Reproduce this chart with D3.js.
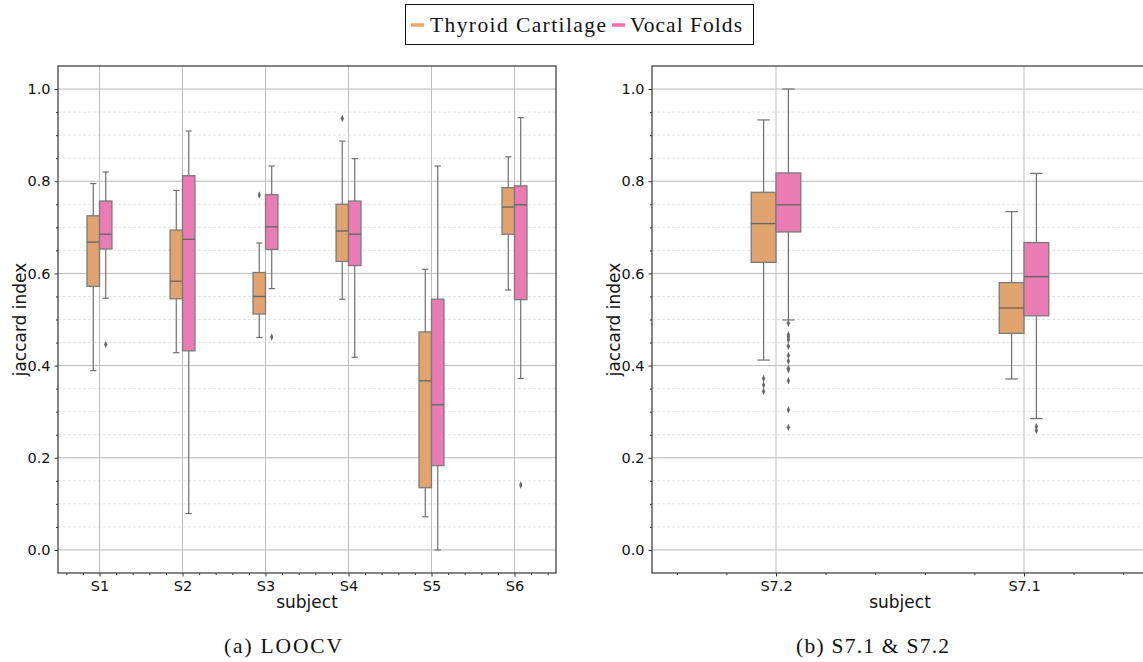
<!DOCTYPE html>
<html>
<head>
<meta charset="utf-8">
<script src="https://cdn.jsdelivr.net/npm/d3@7"></script>
<style>
  html, body { margin: 0; padding: 0; background: #fff; }
  svg { display: block; }
</style>
</head>
<body>
<svg id="chart" width="1143" height="662"></svg>
<script>
// ---------------- data ----------------
const seriesNames = ["Thyroid Cartilage", "Vocal Folds"];
const yTicks = [0.0, 0.2, 0.4, 0.6, 0.8, 1.0];

// Panel (a) LOOCV
const subjectsA = ["S1", "S2", "S3", "S4", "S5", "S6"];
// [whiskerLow, q1, median, q3, whiskerHigh]
const thyroidA = [
  [0.389, 0.572, 0.668, 0.725, 0.795],
  [0.428, 0.545, 0.583, 0.694, 0.780],
  [0.461, 0.512, 0.550, 0.602, 0.666],
  [0.544, 0.626, 0.692, 0.750, 0.887],
  [0.072, 0.135, 0.367, 0.473, 0.609],
  [0.564, 0.685, 0.744, 0.786, 0.853]
];
const thyroidOutA = [[], [], [0.770], [0.936], [], []];
const vocalA = [
  [0.546, 0.653, 0.685, 0.757, 0.820],
  [0.079, 0.432, 0.674, 0.812, 0.909],
  [0.567, 0.652, 0.701, 0.771, 0.833],
  [0.418, 0.617, 0.685, 0.757, 0.849],
  [0.000, 0.183, 0.315, 0.544, 0.833],
  [0.372, 0.543, 0.749, 0.790, 0.938]
];
const vocalOutA = [[0.446], [], [0.462], [], [], [0.141]];

// Panel (b) S7.1 & S7.2
const subjectsB = ["S7.2", "S7.1"];
const thyroidB = [
  [0.412, 0.624, 0.708, 0.776, 0.933],
  [0.371, 0.470, 0.525, 0.580, 0.734]
];
const thyroidOutB = [[0.372, 0.358, 0.344], []];
const vocalB = [
  [0.499, 0.690, 0.749, 0.818, 1.000],
  [0.285, 0.508, 0.593, 0.667, 0.817]
];
const vocalOutB = [
  [0.492, 0.467, 0.462, 0.456, 0.442, 0.422, 0.410, 0.394, 0.391, 0.367, 0.304, 0.266],
  [0.268, 0.259]
];

const boxFill = ["#E1A46F", "#EA7BB4"];
const legendColor = ["#F4A460", "#FF69B4"];

// ---------------- drawing ----------------
const svg = d3.select("#chart");
const sansFont = "'DejaVu Sans', sans-serif";
const serifFont = "'Liberation Serif', 'DejaVu Serif', serif";

function drawPanel(opts) {
  const { left, right, top, bottom, subjects, thyroid, thyroidOut, vocal, vocalOut, widthFrac, caption } = opts;
  const g = svg.append("g");
  const n = subjects.length;
  const x = d3.scaleLinear().domain([-0.5, n - 0.5]).range([left, right]);
  const y = d3.scaleLinear().domain([-0.05, 1.05]).range([bottom, top]);

  // minor horizontal grid (dashed)
  const minorY = d3.range(0, 21).map(i => i * 0.05).filter(v => Math.abs(v * 5 - Math.round(v * 5)) > 1e-6);
  g.selectAll(".minorY").data(minorY).enter().append("line")
    .attr("x1", left).attr("x2", right)
    .attr("y1", d => y(d)).attr("y2", d => y(d))
    .attr("stroke", "#dcdcdc").attr("stroke-width", 0.8).attr("stroke-dasharray", "3,2");
  // major horizontal grid
  g.selectAll(".majorY").data(yTicks).enter().append("line")
    .attr("x1", left).attr("x2", right)
    .attr("y1", d => y(d)).attr("y2", d => y(d))
    .attr("stroke", "#b8b8b8").attr("stroke-width", 1);
  // vertical grid at categories
  g.selectAll(".majorX").data(d3.range(n)).enter().append("line")
    .attr("x1", d => x(d)).attr("x2", d => x(d))
    .attr("y1", top).attr("y2", bottom)
    .attr("stroke", "#bdbdbd").attr("stroke-width", 1);

  const boxW = x(widthFrac / 2) - x(0);
  const lineCol = "#6f6f6f";

  function drawBoxes(stats, outs, si) {
    stats.forEach((s, i) => {
      const cx = x(i) + (si === 0 ? -boxW / 2 : boxW / 2);
      const [lo, q1, med, q3, hi] = s;
      g.append("line").attr("x1", cx).attr("x2", cx).attr("y1", y(q3)).attr("y2", y(hi))
        .attr("stroke", lineCol).attr("stroke-width", 1.2);
      g.append("line").attr("x1", cx).attr("x2", cx).attr("y1", y(q1)).attr("y2", y(lo))
        .attr("stroke", lineCol).attr("stroke-width", 1.2);
      [lo, hi].forEach(v => {
        g.append("line").attr("x1", cx - boxW / 4).attr("x2", cx + boxW / 4)
          .attr("y1", y(v)).attr("y2", y(v))
          .attr("stroke", lineCol).attr("stroke-width", 1.2);
      });
      g.append("rect").attr("x", cx - boxW / 2).attr("width", boxW)
        .attr("y", y(q3)).attr("height", y(q1) - y(q3))
        .attr("fill", boxFill[si]).attr("stroke", "#7a7a7a").attr("stroke-width", 1.3);
      g.append("line").attr("x1", cx - boxW / 2).attr("x2", cx + boxW / 2)
        .attr("y1", y(med)).attr("y2", y(med))
        .attr("stroke", "#676767").attr("stroke-width", 1.4);
      outs[i].forEach(v => {
        g.append("path")
          .attr("d", d3.symbol(d3.symbolDiamond, 16)())
          .attr("transform", `translate(${cx},${y(v)}) scale(0.75,1)`)
          .attr("fill", "#676767");
      });
    });
  }
  drawBoxes(thyroid, thyroidOut, 0);
  drawBoxes(vocal, vocalOut, 1);

  // frame
  g.append("rect").attr("x", left).attr("y", top).attr("width", right - left).attr("height", bottom - top)
    .attr("fill", "none").attr("stroke", "#222").attr("stroke-width", 1.1);

  // y axis
  const yAxis = d3.axisLeft(y).tickValues(yTicks).tickFormat(d3.format(".1f")).tickSize(3.5).tickPadding(4);
  const ya = g.append("g").attr("transform", `translate(${left},0)`).call(yAxis);
  ya.select(".domain").remove();
  ya.selectAll("text").attr("font-family", sansFont).attr("font-size", 14.5).attr("fill", "#111");
  ya.selectAll("line").attr("stroke", "#333");
  const yMinor = d3.axisLeft(y).tickValues(minorY).tickFormat("").tickSize(2);
  const ym = g.append("g").attr("transform", `translate(${left},0)`).call(yMinor);
  ym.select(".domain").remove();
  ym.selectAll("line").attr("stroke", "#333");

  // x axis
  const xAxis = d3.axisBottom(x).tickValues(d3.range(n)).tickFormat(i => subjects[i]).tickSize(3.5).tickPadding(4);
  const xa = g.append("g").attr("transform", `translate(0,${bottom})`).call(xAxis);
  xa.select(".domain").remove();
  xa.selectAll("text").attr("font-family", sansFont).attr("font-size", 14.5).attr("fill", "#111");
  xa.selectAll("line").attr("stroke", "#333");
  const minorX = [];
  for (let v = -0.4; v < n - 0.5; v += 0.2) {
    if (Math.abs(v - Math.round(v)) > 1e-6) minorX.push(v);
  }
  const xMinor = d3.axisBottom(x).tickValues(minorX).tickFormat("").tickSize(2);
  const xm = g.append("g").attr("transform", `translate(0,${bottom})`).call(xMinor);
  xm.select(".domain").remove();
  xm.selectAll("line").attr("stroke", "#333");

  // axis labels
  g.append("text").attr("x", (left + right) / 2).attr("y", bottom + 35)
    .attr("text-anchor", "middle").attr("font-family", sansFont).attr("font-size", 17)
    .attr("fill", "#111").text("subject");
  g.append("text").attr("transform", `translate(${left - 32},${(top + bottom) / 2}) rotate(-90)`)
    .attr("text-anchor", "middle").attr("font-family", sansFont).attr("font-size", 17)
    .attr("fill", "#111").text("jaccard index");

  // caption
  g.append("text").attr("x", opts.captionX - opts.captionW / 2).attr("y", 653)
    .attr("font-family", serifFont).attr("font-size", 21.5)
    .attr("textLength", opts.captionW).attr("lengthAdjust", "spacing")
    .attr("fill", "#111").text(caption);
}

drawPanel({
  left: 58, right: 556, top: 66, bottom: 573,
  subjects: subjectsA, thyroid: thyroidA, thyroidOut: thyroidOutA, vocal: vocalA, vocalOut: vocalOutA,
  widthFrac: 0.3, caption: "(a) LOOCV", captionX: 283, captionW: 118
});
drawPanel({
  left: 652, right: 1148, top: 66, bottom: 573,
  subjects: subjectsB, thyroid: thyroidB, thyroidOut: thyroidOutB, vocal: vocalB, vocalOut: vocalOutB,
  widthFrac: 0.2, caption: "(b) S7.1 & S7.2", captionX: 872.5, captionW: 153
});

// legend
const lg = svg.append("g");
lg.append("rect").attr("x", 405.5).attr("y", 4.5).attr("width", 348).attr("height", 40)
  .attr("fill", "#fff").attr("stroke", "#111").attr("stroke-width", 1);
const legendItems = [
  { x: 411, tx: 430, w: 176, name: seriesNames[0], color: legendColor[0] },
  { x: 612, tx: 630, w: 112, name: seriesNames[1], color: legendColor[1] }
];
legendItems.forEach(it => {
  lg.append("line").attr("x1", it.x).attr("x2", it.x + 13).attr("y1", 25).attr("y2", 25)
    .attr("stroke", it.color).attr("stroke-width", 3.5);
  lg.append("text").attr("x", it.tx).attr("y", 32).attr("font-family", serifFont)
    .attr("font-size", 21.5).attr("textLength", it.w).attr("lengthAdjust", "spacing")
    .attr("fill", "#111").text(it.name);
});
</script>
</body>
</html>
